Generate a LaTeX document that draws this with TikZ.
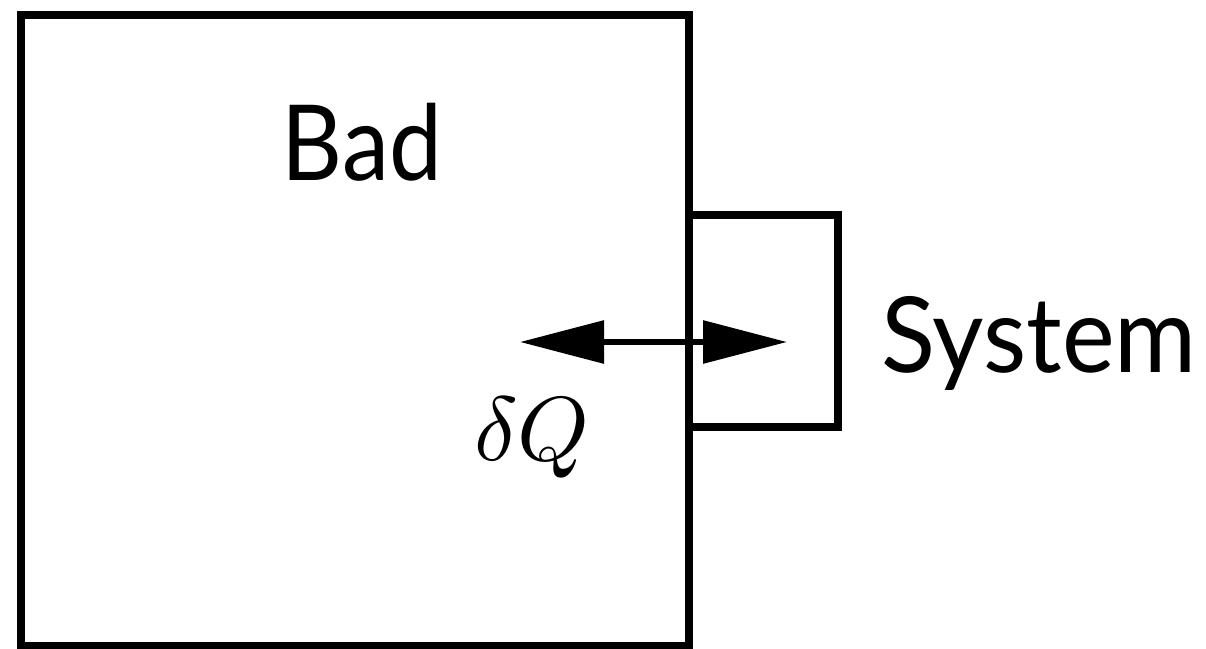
\documentclass[tikz,border=0pt]{standalone}
\usepackage{fontspec}
\setmainfont{Lato}
\usetikzlibrary{arrows.meta}
\tikzset{
  boxstyle/.style={draw=black, line width=8pt, inner sep=0pt, rectangle},
  lbl/.style={inner sep=0pt, anchor=base, font=\fontsize{105}{110}\selectfont},
  heatarrow/.style={line width=6pt, {Triangle[length=84pt,width=42pt]}-{Triangle[length=84pt,width=42pt]}}
}
\begin{document}
\begin{tikzpicture}[x=1pt,y=-1pt]
\useasboundingbox (0,0) rectangle (1206,648);
\node[boxstyle, minimum width=668pt, minimum height=631pt] (bath) at (355,330) {};
\node[boxstyle, minimum width=149pt, minimum height=212pt] (sys) at (763.5,321) {};
\node[lbl] (badlbl) at (362,180) {\scalebox{0.9}[1]{Bad}};
\node[lbl] (syslbl) at (1039,372) {\scalebox{0.95}[1]{System}};
\node[inner sep=0pt, anchor=base] (dq) at (532,460) {\scalebox{9.1}{$\delta Q$}};
\coordinate (al) at (520,342);
\coordinate (ar) at (787,342);
\draw[heatarrow] (al) -- (ar);
\end{tikzpicture}
\end{document}
